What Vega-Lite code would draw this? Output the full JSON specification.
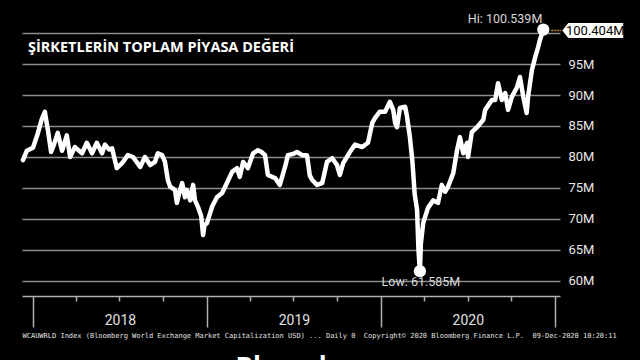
{
  "$schema": "https://vega.github.io/schema/vega-lite/v6.json",
  "width": 538,
  "height": 286,
  "autosize": {"type": "none"},
  "padding": {"left": 22, "top": 10, "right": 80, "bottom": 64},
  "background": "#000000",
  "config": {"view": {"stroke": null}},
  "title": {
    "text": "ŞİRKETLERİN TOPLAM PİYASA DEĞERİ",
    "anchor": "start",
    "frame": "group",
    "orient": "top",
    "offset": -52,
    "dx": 6,
    "baseline": "middle",
    "font": "Open Sans",
    "fontSize": 14.5,
    "fontWeight": "bold",
    "color": "#ffffff"
  },
  "datasets": {
    "series": [
      {"d": "2017-12-11", "v": 79.5}, {"d": "2017-12-19", "v": 81}, {"d": "2018-01-01", "v": 81.5},
      {"d": "2018-01-10", "v": 83.5}, {"d": "2018-01-19", "v": 86}, {"d": "2018-01-26", "v": 87.3},
      {"d": "2018-02-02", "v": 84}, {"d": "2018-02-08", "v": 80.8}, {"d": "2018-02-14", "v": 82},
      {"d": "2018-02-22", "v": 83.9}, {"d": "2018-03-03", "v": 81}, {"d": "2018-03-13", "v": 83.5},
      {"d": "2018-03-20", "v": 80}, {"d": "2018-03-30", "v": 81.6}, {"d": "2018-04-14", "v": 80.6},
      {"d": "2018-04-24", "v": 82.3}, {"d": "2018-05-05", "v": 80.6}, {"d": "2018-05-15", "v": 82.3},
      {"d": "2018-05-26", "v": 80.6}, {"d": "2018-06-01", "v": 82}, {"d": "2018-06-10", "v": 81.2},
      {"d": "2018-06-16", "v": 81.4}, {"d": "2018-06-26", "v": 78.2}, {"d": "2018-07-07", "v": 79},
      {"d": "2018-07-19", "v": 80.3}, {"d": "2018-07-30", "v": 80}, {"d": "2018-08-14", "v": 78.4},
      {"d": "2018-08-24", "v": 80}, {"d": "2018-09-04", "v": 78.7}, {"d": "2018-09-14", "v": 79.2},
      {"d": "2018-09-20", "v": 80.6}, {"d": "2018-09-29", "v": 80.3}, {"d": "2018-10-05", "v": 79.2},
      {"d": "2018-10-11", "v": 76.3}, {"d": "2018-10-16", "v": 75.2}, {"d": "2018-10-26", "v": 74.7},
      {"d": "2018-10-30", "v": 72.6}, {"d": "2018-11-05", "v": 74.5}, {"d": "2018-11-10", "v": 75.8},
      {"d": "2018-11-16", "v": 73.5}, {"d": "2018-11-20", "v": 74.7}, {"d": "2018-11-27", "v": 73},
      {"d": "2018-12-03", "v": 75.5}, {"d": "2018-12-07", "v": 73}, {"d": "2018-12-13", "v": 72},
      {"d": "2018-12-20", "v": 70.5}, {"d": "2018-12-24", "v": 67.4}, {"d": "2018-12-27", "v": 69},
      {"d": "2019-01-01", "v": 69.3}, {"d": "2019-01-12", "v": 72}, {"d": "2019-01-22", "v": 73.5},
      {"d": "2019-02-02", "v": 74.2}, {"d": "2019-02-12", "v": 75.8}, {"d": "2019-02-23", "v": 77.6},
      {"d": "2019-03-05", "v": 78.2}, {"d": "2019-03-11", "v": 76.8}, {"d": "2019-03-18", "v": 79.2},
      {"d": "2019-03-28", "v": 78.2}, {"d": "2019-04-08", "v": 80.6}, {"d": "2019-04-18", "v": 81.1},
      {"d": "2019-04-26", "v": 80.8}, {"d": "2019-05-03", "v": 80.3}, {"d": "2019-05-09", "v": 77.1},
      {"d": "2019-05-24", "v": 76.6}, {"d": "2019-06-03", "v": 75.5}, {"d": "2019-06-14", "v": 78.4},
      {"d": "2019-06-20", "v": 80.3}, {"d": "2019-07-01", "v": 80.5}, {"d": "2019-07-09", "v": 80.8},
      {"d": "2019-07-20", "v": 80.3}, {"d": "2019-07-30", "v": 80.3}, {"d": "2019-08-05", "v": 77},
      {"d": "2019-08-10", "v": 76.3}, {"d": "2019-08-20", "v": 75.5}, {"d": "2019-08-31", "v": 75.8},
      {"d": "2019-09-10", "v": 79.2}, {"d": "2019-09-21", "v": 79.8}, {"d": "2019-10-01", "v": 78.7},
      {"d": "2019-10-07", "v": 77.1}, {"d": "2019-10-14", "v": 79}, {"d": "2019-10-28", "v": 80.8},
      {"d": "2019-11-08", "v": 82}, {"d": "2019-11-23", "v": 81.6}, {"d": "2019-12-05", "v": 82.3},
      {"d": "2019-12-14", "v": 85.5}, {"d": "2019-12-20", "v": 86.3}, {"d": "2019-12-30", "v": 87.3},
      {"d": "2020-01-10", "v": 87.3}, {"d": "2020-01-20", "v": 88.9}, {"d": "2020-01-27", "v": 87.6},
      {"d": "2020-01-31", "v": 85.5}, {"d": "2020-02-04", "v": 84.8}, {"d": "2020-02-10", "v": 87.9},
      {"d": "2020-02-21", "v": 88.1}, {"d": "2020-02-25", "v": 86.5}, {"d": "2020-03-02", "v": 83.2},
      {"d": "2020-03-07", "v": 79.5}, {"d": "2020-03-09", "v": 77.4}, {"d": "2020-03-12", "v": 74},
      {"d": "2020-03-17", "v": 71.5}, {"d": "2020-03-20", "v": 65}, {"d": "2020-03-23", "v": 61.585},
      {"d": "2020-03-25", "v": 66}, {"d": "2020-03-30", "v": 69.4}, {"d": "2020-04-09", "v": 71.8},
      {"d": "2020-04-20", "v": 73}, {"d": "2020-04-30", "v": 72.6}, {"d": "2020-05-08", "v": 75.5},
      {"d": "2020-05-15", "v": 74.4}, {"d": "2020-05-21", "v": 75.2}, {"d": "2020-06-01", "v": 77.4},
      {"d": "2020-06-09", "v": 81.1}, {"d": "2020-06-15", "v": 83.2}, {"d": "2020-06-22", "v": 80.6},
      {"d": "2020-06-30", "v": 82.3}, {"d": "2020-07-02", "v": 80}, {"d": "2020-07-10", "v": 84},
      {"d": "2020-07-21", "v": 84.8}, {"d": "2020-08-03", "v": 86}, {"d": "2020-08-07", "v": 87.6},
      {"d": "2020-08-21", "v": 89.2}, {"d": "2020-08-28", "v": 89.2}, {"d": "2020-09-03", "v": 91.9},
      {"d": "2020-09-11", "v": 89.2}, {"d": "2020-09-18", "v": 90.3}, {"d": "2020-09-24", "v": 87.6},
      {"d": "2020-10-02", "v": 89.7}, {"d": "2020-10-13", "v": 91.3}, {"d": "2020-10-19", "v": 92.9},
      {"d": "2020-10-26", "v": 89.7}, {"d": "2020-11-02", "v": 87.1}, {"d": "2020-11-05", "v": 89.7},
      {"d": "2020-11-13", "v": 94}, {"d": "2020-11-20", "v": 96.1}, {"d": "2020-11-26", "v": 97.7},
      {"d": "2020-11-30", "v": 98.9}, {"d": "2020-12-07", "v": 100.539}, {"d": "2020-12-09", "v": 100.404}
    ],
    "extremes": [
      {"d": "2020-12-07", "v": 100.539, "label": "Hi: 100.539M", "kind": "hi"},
      {"d": "2020-03-23", "v": 61.585, "label": "Low: 61.585M", "kind": "low"}
    ],
    "last": [
      {"d": "2020-12-09", "v": 100.404, "label": "100.404M"}
    ]
  },
  "encoding": {
    "y": {
      "field": "v", "type": "quantitative",
      "scale": {"domain": [57.58, 103.71], "nice": false, "zero": false},
      "axis": {
        "orient": "right",
        "values": [60, 65, 70, 75, 80, 85, 90, 95, 100],
        "labelExpr": "datum.value == 100 ? '' : datum.value + 'M'",
        "labelOverlap": false,
        "grid": true, "gridColor": "#8c8c8c", "gridWidth": 1.5,
        "domain": false, "ticks": false,
        "labelPadding": 8, "labelColor": "#e8e8e8", "labelFont": "Roboto", "labelFontSize": 13,
        "title": "Bloomberg",
        "titleAngle": 0, "titleX": -325, "titleY": 365, "titleAlign": "left", "titleBaseline": "alphabetic",
        "titleFont": "Open Sans", "titleFontSize": 26, "titleFontWeight": "bold", "titleColor": "#ffffff"
      }
    }
  },
  "layer": [
    {
      "data": {"name": "series"},
      "mark": {"type": "line", "color": "#ffffff", "strokeWidth": 4.5, "strokeJoin": "round", "strokeCap": "round"},
      "encoding": {
        "x": {
          "field": "d", "type": "temporal",
          "scale": {"type": "utc", "domain": [{"year": 2017, "month": 12, "date": 9, "utc": true}, {"year": 2021, "month": 1, "date": 11, "utc": true}]},
          "axis": {
            "orient": "bottom",
            "values": [
              {"year": 2018, "month": 4, "date": 1, "utc": true}, {"year": 2018, "month": 7, "date": 1, "utc": true}, {"year": 2018, "month": 10, "date": 1, "utc": true},
              {"year": 2019, "month": 4, "date": 1, "utc": true}, {"year": 2019, "month": 7, "date": 1, "utc": true}, {"year": 2019, "month": 10, "date": 1, "utc": true},
              {"year": 2020, "month": 4, "date": 1, "utc": true}, {"year": 2020, "month": 7, "date": 1, "utc": true}, {"year": 2020, "month": 10, "date": 1, "utc": true}
            ],
            "labels": false, "grid": false, "title": null,
            "tickSize": 5, "tickColor": "#b0b0b0", "tickWidth": 1.5,
            "domain": true, "domainColor": "#b0b0b0", "domainWidth": 1.5
          }
        }
      }
    },
    {
      "data": {"name": "extremes"},
      "mark": {"type": "point", "filled": true, "color": "#ffffff", "opacity": 1, "size": 150},
      "encoding": {
        "x": {
          "field": "d", "type": "temporal",
          "axis": {
            "orient": "bottom",
            "values": [
              {"year": 2018, "month": 1, "date": 1, "utc": true}, {"year": 2019, "month": 1, "date": 1, "utc": true},
              {"year": 2020, "month": 1, "date": 1, "utc": true}, {"year": 2021, "month": 1, "date": 1, "utc": true}
            ],
            "labelExpr": "utcyear(datum.value) < 2021 ? '' + utcyear(datum.value) : ''",
            "labelOffset": 87, "labelPadding": -7, "labelBaseline": "middle", "labelAlign": "center",
            "labelFlush": false, "labelOverlap": false, "labelBound": false,
            "labelColor": "#e0e0e0", "labelFont": "Roboto", "labelFontSize": 14,
            "tickSize": 31, "tickColor": "#b0b0b0", "tickWidth": 1.5,
            "domain": false, "grid": false,
            "title": "WCAUWRLD Index (Bloomberg World Exchange Market Capitalization USD) ... Daily 0\u00a0\u00a0Copyright© 2020 Bloomberg Finance L.P.\u00a0\u00a009-Dec-2020 10:20:11",
            "titleX": 0, "titleY": 39, "titleAlign": "left", "titleAnchor": "start", "titleBaseline": "middle",
            "titleFont": "DejaVu Sans Mono", "titleFontSize": 7, "titleFontWeight": "normal", "titleColor": "#e0e0e0"
          }
        }
      }
    },
    {
      "data": {"name": "extremes"},
      "transform": [{"filter": "datum.kind == 'hi'"}],
      "mark": {"type": "text", "align": "right", "baseline": "middle", "dx": -1, "dy": -11, "font": "Roboto", "fontSize": 12.5, "color": "#d8d8d8"},
      "encoding": {
        "x": {"field": "d", "type": "temporal", "axis": null},
        "text": {"field": "label"}
      }
    },
    {
      "data": {"name": "extremes"},
      "transform": [{"filter": "datum.kind == 'low'"}],
      "mark": {"type": "text", "align": "center", "baseline": "middle", "dx": 1, "dy": 11, "font": "Roboto", "fontSize": 12.5, "color": "#d8d8d8"},
      "encoding": {
        "x": {"field": "d", "type": "temporal", "axis": null},
        "text": {"field": "label"}
      }
    },
    {
      "data": {"name": "last"},
      "mark": {"type": "point", "shape": "M7 0 L17 0", "size": 4, "filled": false, "stroke": "#d2862e", "strokeWidth": 1.5, "strokeDash": [2, 1], "opacity": 1},
      "encoding": {
        "x": {"field": "d", "type": "temporal", "axis": null}
      }
    },
    {
      "data": {"name": "last"},
      "mark": {"type": "point", "shape": "M18 0 L24 -7.5 L79 -7.5 L79 7.5 L24 7.5 Z", "size": 4, "filled": true, "fill": "#ffffff", "strokeWidth": 0, "opacity": 1},
      "encoding": {
        "x": {"field": "d", "type": "temporal", "axis": null}
      }
    },
    {
      "data": {"name": "last"},
      "mark": {"type": "text", "align": "center", "baseline": "middle", "dx": 51, "dy": 0.5, "font": "Roboto", "fontSize": 13, "color": "#000000"},
      "encoding": {
        "x": {"field": "d", "type": "temporal", "axis": null},
        "text": {"field": "label"}
      }
    }
  ],
  "resolve": {"axis": {"x": "independent"}}
}
